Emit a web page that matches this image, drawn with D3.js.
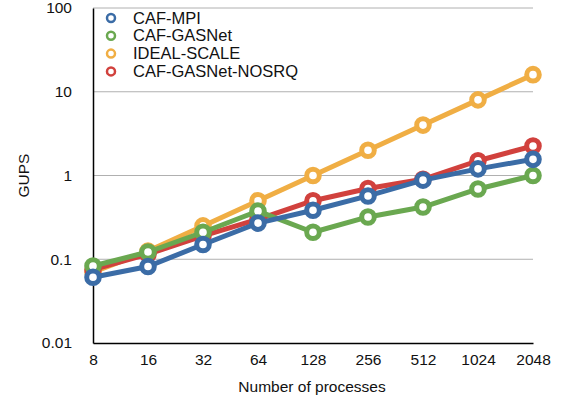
<!DOCTYPE html>
<html>
<head>
<meta charset="utf-8">
<script src="https://cdn.jsdelivr.net/npm/d3@7"></script>
<style>
  html, body { margin: 0; padding: 0; background: #fff; }
  svg text { font-family: "Liberation Sans", Helvetica, Arial, sans-serif; fill: #111; }
</style>
</head>
<body>
<svg id="chart" width="561" height="400"></svg>
<script>
// Number of processes (x categories)
const processes = ["8", "16", "32", "64", "128", "256", "512", "1024", "2048"];

// GUPS per configuration
const cafMpi        = [0.061, 0.082, 0.15, 0.27, 0.385, 0.57, 0.88, 1.2, 1.56];
const cafGasnet     = [0.083, 0.122, 0.21, 0.375, 0.21, 0.32, 0.42, 0.69, 1.0];
const idealScale    = [0.07, 0.125, 0.25, 0.5, 1, 2, 4, 8, 16];
const cafGasnetNosrq = [0.075, 0.115, 0.19, 0.3, 0.5, 0.7, 0.9, 1.5, 2.25];

const yTicks = [0.01, 0.1, 1, 10, 100];
const yTickLabels = ["0.01", "0.1", "1", "10", "100"];

const seriesNames = ["CAF-MPI", "CAF-GASNet", "IDEAL-SCALE", "CAF-GASNet-NOSRQ"];
const seriesValues = [cafMpi, cafGasnet, idealScale, cafGasnetNosrq];
const seriesColors = ["#3b6ca6", "#6aa850", "#f0ae44", "#d1413d"];

const svg = d3.select("#chart");
const plotLeft = 93, plotRight = 533, plotTop = 8, plotBottom = 343;

const x = d3.scalePoint().domain(processes).range([plotLeft, plotRight]).padding(0);
const y = d3.scaleLog().domain([0.01, 100]).range([plotBottom, plotTop]);

// horizontal gridlines
svg.append("g")
  .selectAll("line")
  .data(yTicks.filter(d => d > 0.01))
  .join("line")
  .attr("x1", plotLeft).attr("x2", plotRight)
  .attr("y1", d => y(d)).attr("y2", d => y(d))
  .attr("stroke", "#b0b0b0").attr("stroke-width", 1);

// y axis
const yAxis = svg.append("g")
  .attr("transform", `translate(${plotLeft},0)`)
  .call(d3.axisLeft(y).tickValues(yTicks).tickFormat((d, i) => yTickLabels[i]).tickSize(0).tickPadding(21));
yAxis.select(".domain").attr("stroke", "#000").attr("stroke-width", 1.5);
yAxis.selectAll("text").style("font-size", "15.5px").attr("fill", "#111");

// x axis
const xAxis = svg.append("g")
  .attr("transform", `translate(0,${plotBottom})`)
  .call(d3.axisBottom(x).tickSize(0).tickPadding(11));
xAxis.select(".domain").attr("stroke", "#000").attr("stroke-width", 1.5);
xAxis.selectAll("text").style("font-size", "15.5px").attr("fill", "#111");

// axis titles
svg.append("text")
  .attr("x", 312).attr("y", 392)
  .attr("text-anchor", "middle").style("font-size", "15.5px")
  .text("Number of processes");
svg.append("text")
  .attr("transform", `translate(29,${(plotTop + plotBottom) / 2}) rotate(-90)`)
  .attr("text-anchor", "middle").style("font-size", "15.5px")
  .text("GUPS");

// series, drawn from last to first so CAF-MPI sits on top
const line = d3.line().x((d, i) => x(processes[i])).y(d => y(d));
const order = [2, 3, 1, 0];
order.forEach(k => {
  const g = svg.append("g");
  g.append("path")
    .datum(seriesValues[k])
    .attr("d", line)
    .attr("fill", "none")
    .attr("stroke", seriesColors[k])
    .attr("stroke-width", 5)
    .attr("stroke-linejoin", "round");
  g.selectAll("circle")
    .data(seriesValues[k])
    .join("circle")
    .attr("cx", (d, i) => x(processes[i]))
    .attr("cy", d => y(d))
    .attr("r", 6.3)
    .attr("fill", "#fff")
    .attr("stroke", seriesColors[k])
    .attr("stroke-width", 5);
});

// legend
const legend = svg.append("g");
seriesNames.forEach((name, i) => {
  const ly = 18 + i * 17.8;
  legend.append("circle")
    .attr("cx", 111).attr("cy", ly).attr("r", 4)
    .attr("fill", "#fff").attr("stroke", seriesColors[i]).attr("stroke-width", 2.5);
  legend.append("text")
    .attr("x", 133).attr("y", ly + 5.5)
    .style("font-size", "16.5px")
    .text(name);
});
</script>
</body>
</html>
